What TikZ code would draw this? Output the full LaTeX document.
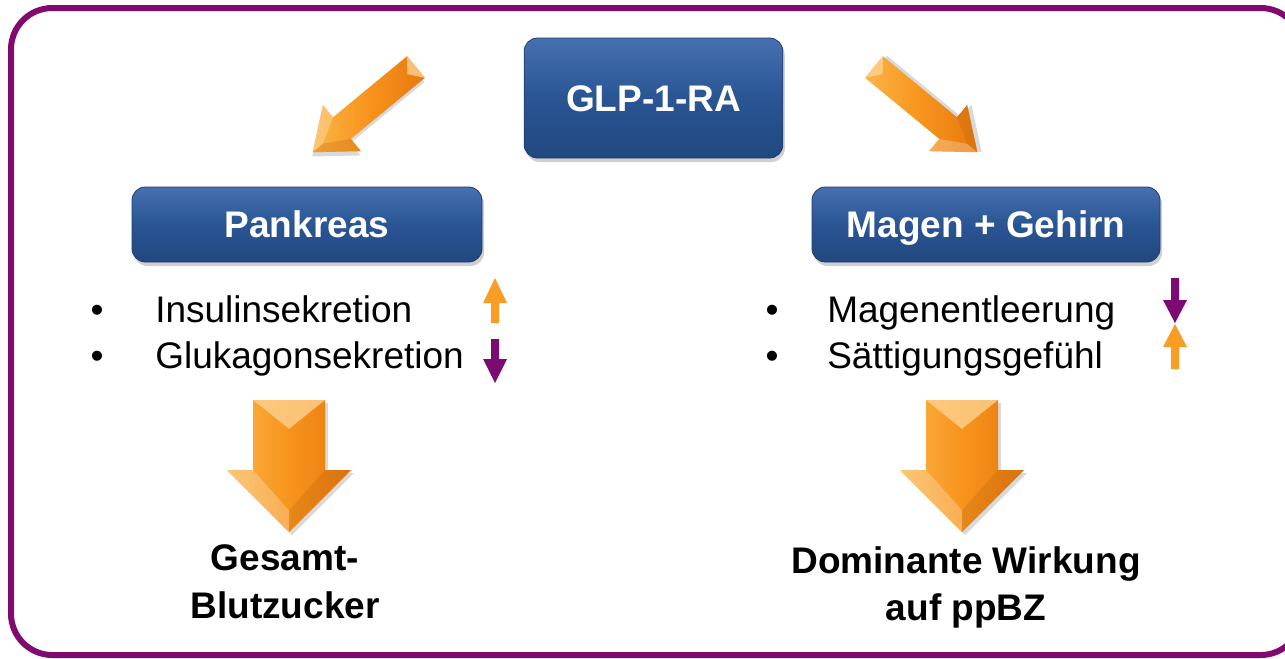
\documentclass[tikz,border=0pt]{standalone}
\usepackage{fontspec}
\setmainfont{Liberation Sans}
\usetikzlibrary{shadows}
\definecolor{framepurple}{HTML}{800A70}
\definecolor{boxtop}{HTML}{4670B0}
\definecolor{boxmid}{HTML}{2A5593}
\definecolor{boxbot}{HTML}{21487F}
\definecolor{arlight}{HTML}{FBB446}
\definecolor{armid}{HTML}{F7941D}
\definecolor{ardark}{HTML}{E6790F}
\definecolor{smallorange}{HTML}{F99D25}
\definecolor{smallpurple}{HTML}{7B0A72}

\newcommand\bevarrow[4]{% length, shaft half, head half, head length
  \fill[black, opacity=.15] ({-#2+3},3) -- ({#2+3},3) -- ({#2+3},{#1-#4+3}) -- ({#3+3},{#1-#4+3}) -- (3,{#1+3}) -- ({-#3+3},{#1-#4+3}) -- ({-#2+3},{#1-#4+3}) -- cycle;
  \shade[left color=arlight, right color=ardark, middle color=armid] (-#2,0) -- (#2,0) -- (#2,{#1-#4}) -- (#3,{#1-#4}) -- (0,#1) -- (-#3,{#1-#4}) -- (-#2,{#1-#4}) -- cycle;
  \fill[arlight!60!white, opacity=.8] (-#2,0) -- (#2,0) -- (0,{#2*0.8}) -- cycle;
  \fill[white, opacity=.25] (-#3,{#1-#4}) -- (-#2,{#1-#4}) -- (0,{#1-#4*0.35}) -- (0,#1) -- cycle;
  \fill[ardark!80!black, opacity=.25] (#3,{#1-#4}) -- (#2,{#1-#4}) -- (0,{#1-#4*0.35}) -- (0,#1) -- cycle;
}

\tikzset{
  bluebox/.style={rounded corners=10pt, top color=boxtop, bottom color=boxbot, middle color=boxmid,
    draw=boxbot!85!black, line width=0.6pt, text=white,
    font=\bfseries\fontsize{27.75}{33}\selectfont, text height=20pt, text depth=0pt,
    drop shadow={shadow xshift=1.5pt, shadow yshift=-3pt, opacity=.3, fill=black!60}},
  listtext/.style={anchor=base west, inner sep=0pt, font=\fontsize{27.75}{33}\selectfont},
  bullet/.style={anchor=base, inner sep=0pt, font=\fontsize{27.75}{33}\selectfont},
  result/.style={anchor=base, inner sep=0pt, font=\bfseries\fontsize{27.75}{33}\selectfont},
}

\begin{document}
\begin{tikzpicture}[x=0.75pt, y=-0.75pt]
\useasboundingbox (0,0) rectangle (1285,658);
\fill[white] (0,0) rectangle (1285,658);
% frame
\draw[framepurple, line width=4.5pt, rounded corners=31pt] (11,8) rectangle (1302,655);

% boxes
\node[bluebox, minimum width=194pt, minimum height=90pt] (glp) at (653.5,98) {GLP-1-RA};
\node[bluebox, minimum width=262.5pt, minimum height=56.25pt] (pank) at (307,224.5) {Pankreas};
\node[bluebox, minimum width=261pt, minimum height=56.25pt] (magen) at (986,224.5) {Magen + Gehirn};

% diagonal arrows
\begin{scope}[shift={(416,67)}, rotate=-50.5]
  \bevarrow{134}{14}{30}{38}
\end{scope}
\begin{scope}[shift={(874,67)}, rotate=50.5]
  \bevarrow{134}{14}{30}{38}
\end{scope}

% lists
\node[bullet] (b1) at (97,322) {•};
\node[bullet] (b2) at (97,368) {•};
\node[listtext] (insulin) at (155,322) {Insulinsekretion};
\node[listtext] (glukagon) at (155,368) {Glukagonsekretion};
\node[bullet] (b3) at (772,322) {•};
\node[bullet] (b4) at (772,368) {•};
\node[listtext] (magentl) at (827,322) {Magenentleerung};
\node[listtext] (saett) at (827,368) {Sättigungsgefühl};

% small arrows
\fill[smallorange] (491,323) -- (491,303) -- (483,303) -- (495,278) -- (507,303) -- (499,303) -- (499,323) -- cycle;
\fill[smallpurple] (491,339) -- (491,359) -- (483,359) -- (495,383) -- (507,359) -- (499,359) -- (499,339) -- cycle;
\fill[smallpurple] (1171,278) -- (1171,300) -- (1163,300) -- (1175,323) -- (1187,300) -- (1179,300) -- (1179,278) -- cycle;
\fill[smallorange] (1171,369) -- (1171,347) -- (1163,347) -- (1175,324) -- (1187,347) -- (1179,347) -- (1179,369) -- cycle;

% big arrows
\begin{scope}[shift={(289,400)}]
  \bevarrow{132}{36}{62}{62}
\end{scope}
\begin{scope}[shift={(962,400)}]
  \bevarrow{132}{36}{62}{62}
\end{scope}

% results
\node[result] (ges1) at (285,570) {Gesamt-};
\node[result] (ges2) at (285,618) {Blutzucker};
\node[result] (dom1) at (966,573) {Dominante Wirkung};
\node[result] (dom2) at (966,620) {auf ppBZ};
\end{tikzpicture}
\end{document}
